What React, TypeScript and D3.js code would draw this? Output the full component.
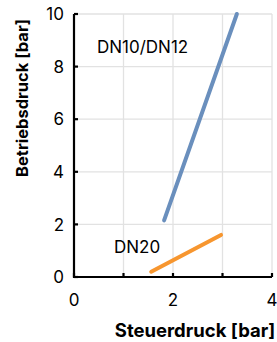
import { useEffect, useRef } from "react";
import * as d3 from "d3";

interface Pt {
  x: number;
  y: number;
}

const dn10: Pt[] = [
  { x: 1.82, y: 2.15 },
  { x: 3.29, y: 10 },
];
const dn20: Pt[] = [
  { x: 1.56, y: 0.2 },
  { x: 2.97, y: 1.6 },
];
const xTicks = [0, 1, 2, 3, 4];
const xLabels = [0, 2, 4];
const yTicks = [0, 2, 4, 6, 8, 10];

const W = 277;
const H = 342;
const FONT = "Inter, 'Noto Sans', sans-serif";

const App = () => {
  const ref = useRef<SVGSVGElement>(null);

  useEffect(() => {
    if (!ref.current) return;
    const svg = d3.select(ref.current);
    svg.selectAll("*").remove();

    const x = d3.scaleLinear().domain([0, 4]).range([74, 272]);
    const y = d3.scaleLinear().domain([0, 10]).range([277, 14]);

    // grid
    const grid = svg.append("g").attr("stroke", "#e2e2e2").attr("stroke-width", 1.3);
    xTicks.slice(1).forEach((t) => {
      grid.append("line").attr("x1", x(t)).attr("x2", x(t)).attr("y1", y(0)).attr("y2", y(10));
    });
    yTicks.slice(1).forEach((t) => {
      grid.append("line").attr("x1", x(0)).attr("x2", x(4)).attr("y1", y(t)).attr("y2", y(t));
    });

    // axes
    const ax = svg.append("g").attr("stroke", "#000").attr("stroke-width", 2.2);
    ax.append("line").attr("x1", x(0)).attr("x2", x(0)).attr("y1", y(0) + 1).attr("y2", y(10));
    ax.append("line").attr("x1", x(0)).attr("x2", x(4)).attr("y1", y(0)).attr("y2", y(0));
    yTicks.forEach((t) => {
      ax.append("line").attr("x1", x(0)).attr("x2", x(0) + 4).attr("y1", y(t)).attr("y2", y(t));
    });
    xTicks.forEach((t) => {
      ax.append("line").attr("x1", x(t)).attr("x2", x(t)).attr("y1", y(0)).attr("y2", y(0) - 4);
    });

    svg
      .append("g")
      .selectAll("text")
      .data(yTicks)
      .join("text")
      .attr("x", x(0) - 10)
      .attr("y", (d) => y(d))
      .attr("dy", "0.36em")
      .attr("text-anchor", "end")
      .attr("font-family", FONT)
      .attr("font-size", 17)
      .text((d) => d);

    svg
      .append("g")
      .selectAll("text")
      .data(xLabels)
      .join("text")
      .attr("x", (d) => x(d))
      .attr("y", y(0) + 29)
      .attr("text-anchor", "middle")
      .attr("font-family", FONT)
      .attr("font-size", 17)
      .text((d) => d);

    const line = d3
      .line<Pt>()
      .x((d) => x(d.x))
      .y((d) => y(d.y));

    svg
      .append("path")
      .datum(dn10)
      .attr("d", line)
      .attr("fill", "none")
      .attr("stroke", "#6a8fbd")
      .attr("stroke-width", 4)
      .attr("stroke-linecap", "round");
    svg
      .append("path")
      .datum(dn20)
      .attr("d", line)
      .attr("fill", "none")
      .attr("stroke", "#f7962f")
      .attr("stroke-width", 4)
      .attr("stroke-linecap", "round");

    svg
      .append("text")
      .attr("x", 97)
      .attr("y", 53)
      .attr("font-family", FONT)
      .attr("font-size", 17)
      .text("DN10/DN12");
    svg
      .append("text")
      .attr("x", 114)
      .attr("y", 253)
      .attr("font-family", FONT)
      .attr("font-size", 17)
      .text("DN20");

    svg
      .append("text")
      .attr("x", 195)
      .attr("y", 337)
      .attr("text-anchor", "middle")
      .attr("font-family", FONT)
      .attr("font-size", 18.5)
      .attr("font-weight", "bold")
      .text("Steuerdruck [bar]");
    svg
      .append("text")
      .attr("transform", `translate(28,98) rotate(-90)`)
      .attr("text-anchor", "middle")
      .attr("font-family", FONT)
      .attr("font-size", 16.5)
      .attr("font-weight", "bold")
      .text("Betriebsdruck [bar]");
  }, []);

  return (
    <svg
      ref={ref}
      width={W}
      height={H}
      style={{ position: "absolute", left: 0, top: 0, background: "#fff" }}
    />
  );
};

export default App;
